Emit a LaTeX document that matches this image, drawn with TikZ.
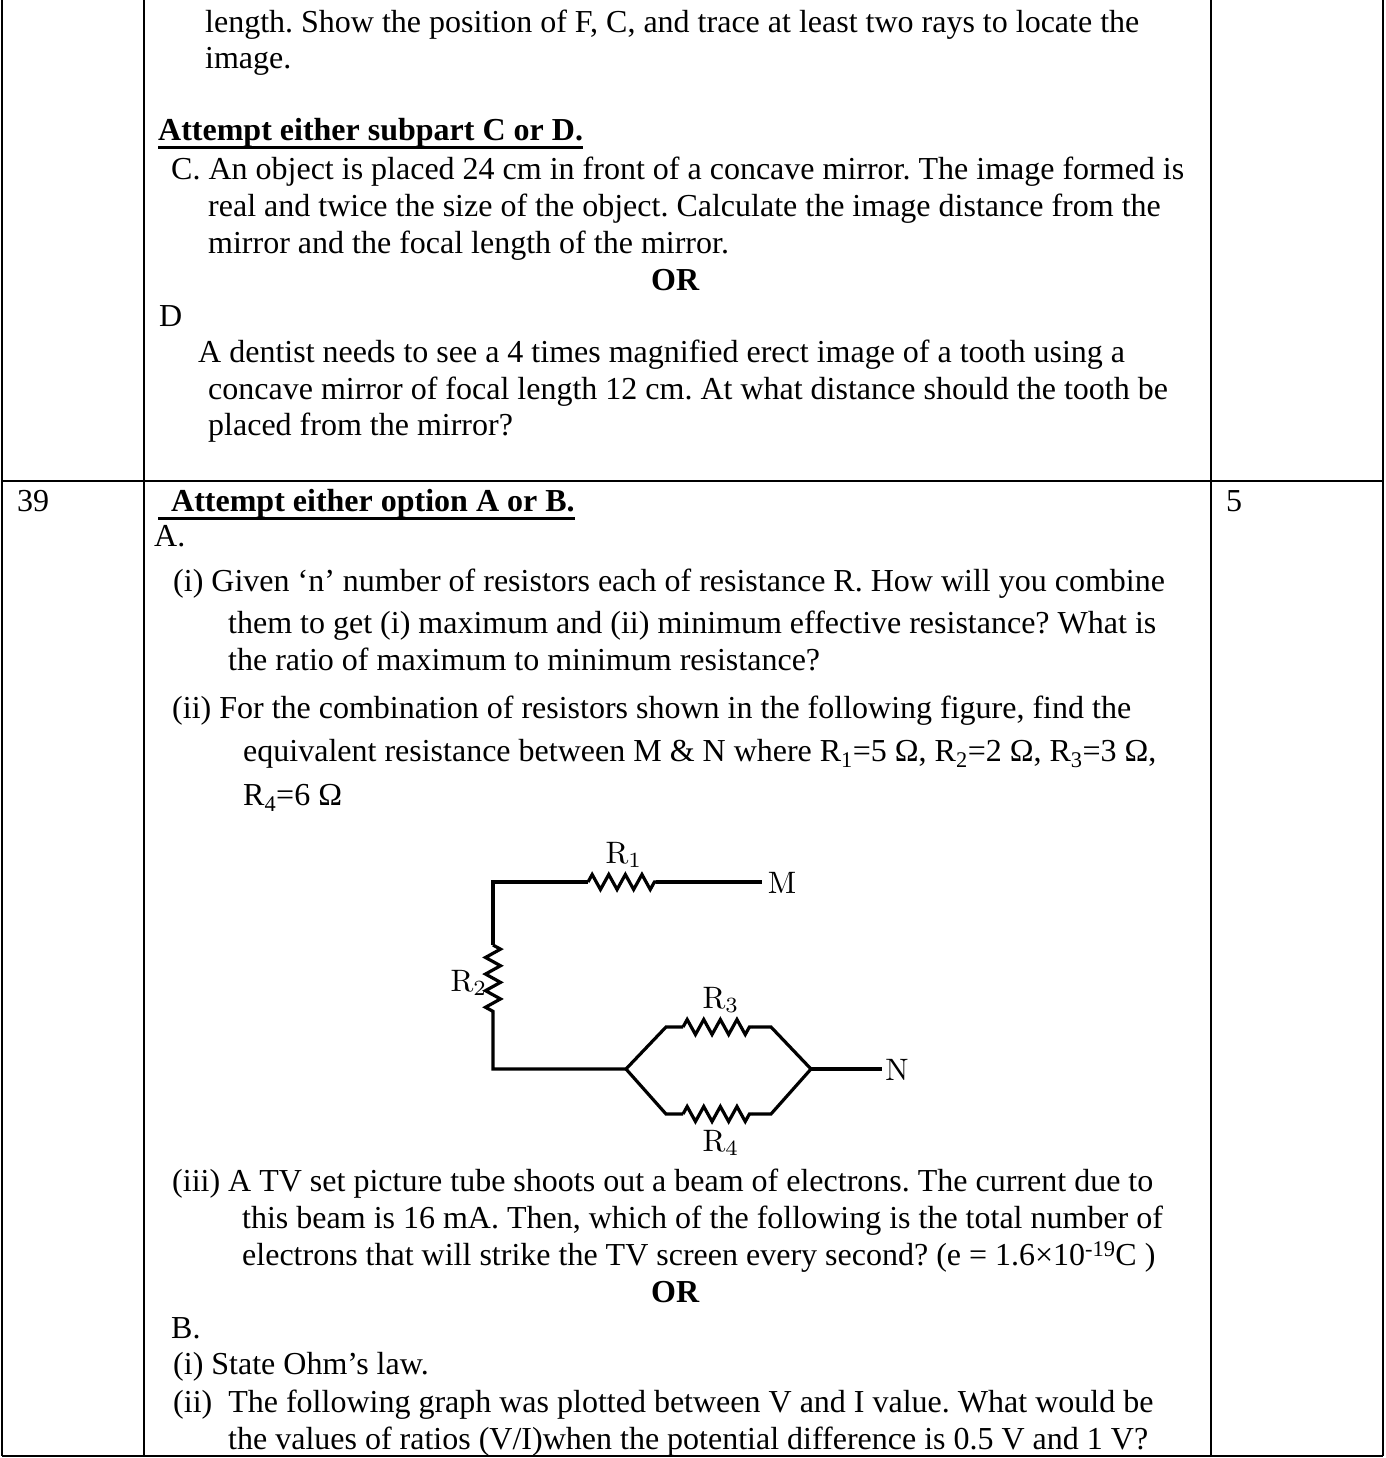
\documentclass[tikz,border=0pt]{standalone}
\usepackage[no-math]{fontspec}
\setmainfont{Liberation Serif}
\usetikzlibrary{decorations.pathmorphing}
\frenchspacing
\tikzset{
 txt/.style={anchor=base west, inner sep=0, yshift=-1.5pt, font=\fontsize{32}{36}\selectfont},
 wire/.style={black, line width=3.2pt, line join=miter},
 res/.style={wire, decorate, decoration={zigzag, amplitude=7.5, segment length=16.6}},
 rlabel/.style={inner sep=0, scale=3.1},
 frame/.style={black, line width=2.6pt},
 uline/.style={black, line width=3pt, yshift=1pt}
}
\begin{document}
\begin{tikzpicture}[x=1pt,y=-1pt]
\useasboundingbox (0,0) rectangle (1385,1458);
% table rules
\coordinate (T1) at (2,0);
\coordinate (T2) at (144,0);
\coordinate (T3) at (1211,0);
\coordinate (T4) at (1383,0);
\coordinate (B1) at (2,1456);
\coordinate (B2) at (144,1456);
\coordinate (B3) at (1211,1456);
\coordinate (B4) at (1383,1456);
\coordinate (M1) at (2,481);
\coordinate (M4) at (1383,481);
\foreach \x  in  {1,2,3,4} {
 \draw[frame] (T\x) -- (B\x);
}
\draw[frame] (M1) -- (M4);
\draw[frame] (B1) -- (B4);
% upper cell
\node[txt] (q1) at (205,31) {length. Show the position of F, C, and trace at least two rays to locate the};
\node[txt] (q2) at (205,67) {image.};
\node[txt] (q3) at (158,139) {\textbf{Attempt either subpart C or D.}};
\draw[uline] (q3.south west) -- (q3.south east);
\node[txt] (q4) at (171,178) {C. An object is placed 24 cm in front of a concave mirror. The image formed is};
\node[txt] (q5) at (208,215) {real and twice the size of the object. Calculate the image distance from the};
\node[txt] (q6) at (208,252) {mirror and the focal length of the mirror.};
\node[txt] (q7) at (651,289) {\textbf{OR}};
\node[txt] (q8) at (159,325) {D};
\node[txt] (q9) at (198,361) {A dentist needs to see a 4 times magnified erect image of a tooth using a};
\node[txt] (q10) at (208,398) {concave mirror of focal length 12 cm. At what distance should the tooth be};
\node[txt] (q11) at (208,434) {placed from the mirror?};
% question 39
\node[txt] (num) at (17,510) {39};
\node[txt] (marks) at (1226,510) {5};
\node[txt] (a0) at (158,510) {\hspace{13pt}\textbf{Attempt either option A or B.}};
\draw[uline] (a0.south west) -- (a0.south east);
\node[txt] (a1) at (154,545) {A.};
\node[txt] (a2) at (173,590) {(i) Given ‘n’ number of resistors each of resistance R. How will you combine};
\node[txt] (a3) at (228,632) {them to get (i) maximum and (ii) minimum effective resistance? What is};
\node[txt] (a4) at (228,669) {the ratio of maximum to minimum resistance?};
\node[txt] (a5) at (172,717) {(ii) For the combination of resistors shown in the following figure, find the};
\node[txt] (a6) at (243,760) {equivalent resistance between M \& N where R\textsubscript{1}=5 Ω, R\textsubscript{2}=2 Ω, R\textsubscript{3}=3 Ω,};
\node[txt] (a7) at (243,804) {R\textsubscript{4}=6 Ω};
% circuit
\coordinate (C1) at (493,882);
\coordinate (C2) at (588,882);
\coordinate (C3) at (656,882);
\coordinate (C4) at (762,882);
\coordinate (C5) at (493,945);
\coordinate (C6) at (493,1013);
\coordinate (C7) at (493,1069);
\coordinate (J1) at (626,1069);
\coordinate (J2) at (811,1069);
\coordinate (C8) at (882,1069);
\coordinate (U1) at (666,1027);
\coordinate (U2) at (683,1027);
\coordinate (U3) at (752,1027);
\coordinate (U4) at (771,1027);
\coordinate (L1) at (666,1114);
\coordinate (L2) at (683,1114);
\coordinate (L3) at (752,1114);
\coordinate (L4) at (771,1114);
\draw[wire] (C5) -- (C1) -- (C2);
\draw[res] (C2) -- (C3);
\draw[wire] (C3) -- (C4);
\draw[res] (C5) -- (C6);
\draw[wire] (C6) -- (C7) -- (J1) -- (U1) -- (U2);
\draw[res] (U2) -- (U3);
\draw[wire] (U3) -- (U4) -- (J2) -- (L4) -- (L3);
\draw[res] (L2) -- (L3);
\draw[wire] (L2) -- (L1) -- (J1);
\draw[wire] (J2) -- (C8);
\node[rlabel] (R1) at (624,855) {$\mathrm{R}_1$};
\node[rlabel] (R2) at (469,983) {$\mathrm{R}_2$};
\node[rlabel] (R3) at (721,1000) {$\mathrm{R}_3$};
\node[rlabel] (R4) at (721,1143) {$\mathrm{R}_4$};
\node[rlabel] (M) at (782,883) {$\mathrm{M}$};
\node[rlabel] (N) at (897,1070) {$\mathrm{N}$};
% rest of the cell
\node[txt] (a8) at (172,1190) {(iii) A TV set picture tube shoots out a beam of electrons. The current due to};
\node[txt] (a9) at (242,1227) {this beam is 16 mA. Then, which of the following is the total number of};
\node[txt] (a10) at (242,1264) {electrons that will strike the TV screen every second? (e = 1.6×10\textsuperscript{-19}C )};
\node[txt] (a11) at (651,1301) {\textbf{OR}};
\node[txt] (b0) at (171,1337) {B.};
\node[txt] (b1) at (173,1373) {(i) State Ohm’s law.};
\node[txt] (b2) at (173,1411) {(ii)\ \ The following graph was plotted between V and I value. What would be};
\node[txt] (b3) at (228,1448) {the values of ratios (V/I)when the potential difference is 0.5 V and 1 V?};
\end{tikzpicture}
\end{document}
